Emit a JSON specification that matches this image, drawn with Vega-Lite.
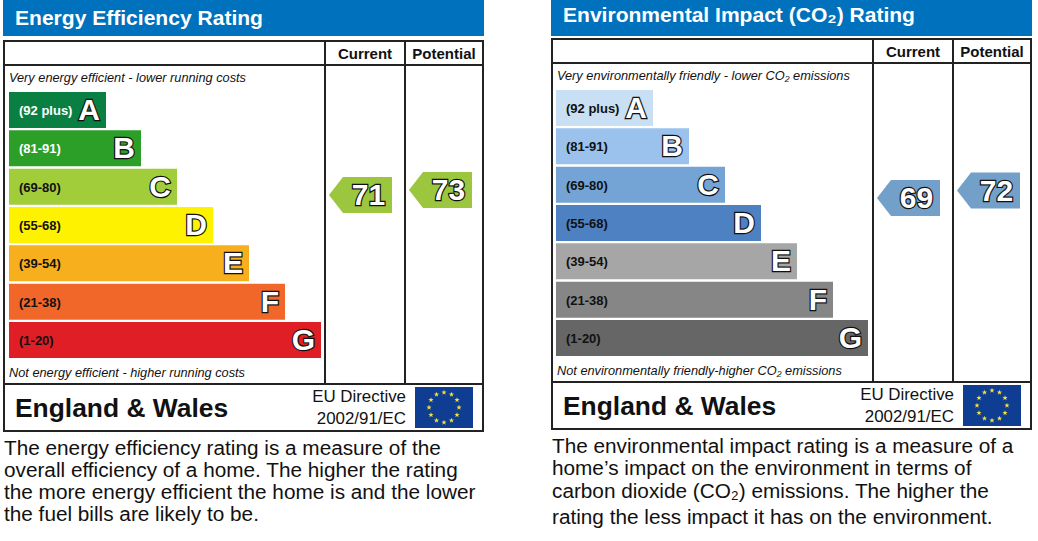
{
"$schema":"https://vega.github.io/schema/vega-lite/v6.json",
"padding":0,"spacing":0,"background":"#ffffff",
"config":{"font":"Liberation Sans","view":{"stroke":null},"axis":{"disable":true},"legend":{"disable":true},"text":{"baseline":"alphabetic","font":"Liberation Sans","fill":"#111111"},"rule":{"stroke":"#222222","strokeWidth":2}},
"datasets":{
"energyBands":[{"band":"A","range":"(92 plus)","length":97},{"band":"B","range":"(81-91)","length":132},{"band":"C","range":"(69-80)","length":168},{"band":"D","range":"(55-68)","length":204},{"band":"E","range":"(39-54)","length":240},{"band":"F","range":"(21-38)","length":276},{"band":"G","range":"(1-20)","length":312}],
"envBands":[{"band":"A","range":"(92 plus)","length":97},{"band":"B","range":"(81-91)","length":133},{"band":"C","range":"(69-80)","length":169},{"band":"D","range":"(55-68)","length":205},{"band":"E","range":"(39-54)","length":241},{"band":"F","range":"(21-38)","length":277},{"band":"G","range":"(1-20)","length":312}],
"energyRatings":[{"rating":"Current","score":71},{"rating":"Potential","score":73}],
"envRatings":[{"rating":"Current","score":69},{"rating":"Potential","score":72}]
},
"hconcat":[
{"width":548,"height":541,"resolve":{"scale":{"x":"independent","y":"independent","color":"independent"}},"layer":[
{"data":{"values":[{}]},"layer":[
{"mark":{"type":"rect","fill":"#0071bc"},"encoding":{"x":{"datum":3,"scale":{"domain":[0,548],"nice":false,"zero":false}},"x2":{"datum":484},"y":{"datum":0,"scale":{"domain":[541,0],"nice":false,"zero":false}},"y2":{"datum":36}}},
{"mark":{"type":"rect","fill":"#ffffff","stroke":"#222222","strokeWidth":2},"encoding":{"x":{"datum":4},"x2":{"datum":483},"y":{"datum":41},"y2":{"datum":431}}},
{"mark":{"type":"rule"},"encoding":{"x":{"datum":4},"x2":{"datum":483},"y":{"datum":65}}},
{"mark":{"type":"rule"},"encoding":{"x":{"datum":4},"x2":{"datum":483},"y":{"datum":384}}},
{"mark":{"type":"rule"},"encoding":{"x":{"datum":325},"y":{"datum":41},"y2":{"datum":384}}},
{"mark":{"type":"rule"},"encoding":{"x":{"datum":405},"y":{"datum":41},"y2":{"datum":384}}},
{"mark":{"type":"rect","fill":"#0f3d91"},"encoding":{"x":{"datum":415},"x2":{"datum":473},"y":{"datum":387},"y2":{"datum":428}}},
{"mark":{"type":"point","filled":true,"opacity":1,"size":10000,"fill":"#f2e23c","shape":"M0,-.356l.013,.038l.04,.001l-.032,.024l.012,.038l-.033,-.023l-.033,.023l.012,-.038l-.032,-.024l.04,-.001zM.15,-.316l.013,.038l.04,.001l-.032,.024l.012,.038l-.033,-.023l-.033,.023l.012,-.038l-.032,-.024l.04,-.001zM.26,-.206l.013,.038l.04,.001l-.032,.024l.012,.038l-.033,-.023l-.033,.023l.012,-.038l-.032,-.024l.04,-.001zM.3,-.056l.013,.038l.04,.001l-.032,.024l.012,.038l-.033,-.023l-.033,.023l.012,-.038l-.032,-.024l.04,-.001zM.26,.094l.013,.038l.04,.001l-.032,.024l.012,.038l-.033,-.023l-.033,.023l.012,-.038l-.032,-.024l.04,-.001zM.15,.204l.013,.038l.04,.001l-.032,.024l.012,.038l-.033,-.023l-.033,.023l.012,-.038l-.032,-.024l.04,-.001zM0,.244l.013,.038l.04,.001l-.032,.024l.012,.038l-.033,-.023l-.033,.023l.012,-.038l-.032,-.024l.04,-.001zM-.15,.204l.013,.038l.04,.001l-.032,.024l.012,.038l-.033,-.023l-.033,.023l.012,-.038l-.032,-.024l.04,-.001zM-.26,.094l.013,.038l.04,.001l-.032,.024l.012,.038l-.033,-.023l-.033,.023l.012,-.038l-.032,-.024l.04,-.001zM-.3,-.056l.013,.038l.04,.001l-.032,.024l.012,.038l-.033,-.023l-.033,.023l.012,-.038l-.032,-.024l.04,-.001zM-.26,-.206l.013,.038l.04,.001l-.032,.024l.012,.038l-.033,-.023l-.033,.023l.012,-.038l-.032,-.024l.04,-.001zM-.15,-.316l.013,.038l.04,.001l-.032,.024l.012,.038l-.033,-.023l-.033,.023l.012,-.038l-.032,-.024l.04,-.001z"},"encoding":{"x":{"datum":444},"y":{"datum":407.5}}},
{"mark":{"type":"text","text":"Energy Efficiency Rating","fontSize":21.05,"fontWeight":"bold","fill":"#ffffff","align":"left"},"encoding":{"x":{"datum":15},"y":{"datum":25}}},
{"mark":{"type":"text","text":"Current","fontSize":15,"fontWeight":"bold","align":"center"},"encoding":{"x":{"datum":365},"y":{"datum":59}}},
{"mark":{"type":"text","text":"Potential","fontSize":15,"fontWeight":"bold","align":"center"},"encoding":{"x":{"datum":444},"y":{"datum":59}}},
{"mark":{"type":"text","text":"Very energy efficient - lower running costs","fontSize":12.75,"fontStyle":"italic","align":"left"},"encoding":{"x":{"datum":9},"y":{"datum":82}}},
{"mark":{"type":"text","text":"Not energy efficient - higher running costs","fontSize":12.75,"fontStyle":"italic","align":"left"},"encoding":{"x":{"datum":9},"y":{"datum":377}}},
{"mark":{"type":"text","text":"England & Wales","fontSize":26.4,"fontWeight":"bold","align":"left"},"encoding":{"x":{"datum":15},"y":{"datum":417}}},
{"mark":{"type":"text","text":"EU Directive","fontSize":16.9,"align":"right"},"encoding":{"x":{"datum":406},"y":{"datum":402}}},
{"mark":{"type":"text","text":"2002/91/EC","fontSize":16.9,"align":"right"},"encoding":{"x":{"datum":406},"y":{"datum":424}}},
{"mark":{"type":"text","text":"The energy efficiency rating is a measure of the","fontSize":20.75,"align":"left"},"encoding":{"x":{"datum":4},"y":{"datum":455}}},
{"mark":{"type":"text","text":"overall efficiency of a home. The higher the rating","fontSize":20.75,"align":"left"},"encoding":{"x":{"datum":4},"y":{"datum":477}}},
{"mark":{"type":"text","text":"the more energy efficient the home is and the lower","fontSize":20.75,"align":"left"},"encoding":{"x":{"datum":4},"y":{"datum":499}}},
{"mark":{"type":"text","text":"the fuel bills are likely to be.","fontSize":20.75,"align":"left"},"encoding":{"x":{"datum":4},"y":{"datum":521}}}
]},
{"data":{"name":"energyBands"},"layer":[
{"mark":{"type":"bar","cornerRadius":0},"encoding":{"x":{"field":"length","type":"quantitative","scale":{"domain":[-9,539],"nice":false,"zero":false}},"x2":{"datum":0},"y":{"field":"band","type":"nominal","scale":{"domain":["A","B","C","D","E","F","G"],"range":[92,358],"paddingInner":0.06,"paddingOuter":0}},"color":{"field":"band","type":"nominal","scale":{"domain":["A","B","C","D","E","F","G"],"range":["#0a7f42","#2c9f29","#a2cd3a","#fff200","#f8af1e","#f1672a","#e01e26"]}}}},
{"mark":{"type":"text","fontSize":13,"fontWeight":"bold","align":"left","baseline":"middle","dy":1},"encoding":{"x":{"datum":10},"y":{"field":"band","type":"nominal"},"text":{"field":"range"},"fill":{"condition":{"test":"datum.band==='A'||datum.band==='B'","value":"#ffffff"},"value":"#111111"}}},
{"mark":{"type":"text","fontSize":30,"fontWeight":"bold","align":"right","baseline":"middle","dx":-6,"dy":1,"fill":"#111111","stroke":"#111111","strokeWidth":2.4},"encoding":{"x":{"field":"length","type":"quantitative"},"y":{"field":"band","type":"nominal"},"text":{"field":"band"}}},
{"mark":{"type":"text","fontSize":30,"fontWeight":"bold","align":"right","baseline":"middle","dx":-6,"dy":1,"fill":"#ffffff"},"encoding":{"x":{"field":"length","type":"quantitative"},"y":{"field":"band","type":"nominal"},"text":{"field":"band"}}}
]},
{"data":{"name":"energyRatings"},"layer":[
{"mark":{"type":"point","filled":true,"opacity":1,"size":10000,"fill":"#9bc63d","shape":"M-.63,0L-.35,-.36L.63,-.36L.63,.36L-.35,.36Z"},"encoding":{"x":{"field":"rating","type":"nominal","scale":{"type":"point","domain":["Current","Potential"],"range":[360.5,440.5],"padding":0}},"y":{"field":"score","type":"quantitative","scale":{"domain":[0,100],"range":[372.5,122.5],"nice":false,"zero":false}}}},
{"mark":{"type":"text","fontSize":30,"fontWeight":"bold","align":"center","baseline":"middle","dx":8,"dy":1,"fill":"#111111","stroke":"#111111","strokeWidth":2.4},"encoding":{"x":{"field":"rating","type":"nominal"},"y":{"field":"score","type":"quantitative"},"text":{"field":"score","type":"quantitative"}}},
{"mark":{"type":"text","fontSize":30,"fontWeight":"bold","align":"center","baseline":"middle","dx":8,"dy":1,"fill":"#ffffff"},"encoding":{"x":{"field":"rating","type":"nominal"},"y":{"field":"score","type":"quantitative"},"text":{"field":"score","type":"quantitative"}}}
]}
]},
{"width":490,"height":541,"resolve":{"scale":{"x":"independent","y":"independent","color":"independent"}},"layer":[
{"data":{"values":[{}]},"layer":[
{"mark":{"type":"rect","fill":"#0071bc"},"encoding":{"x":{"datum":3,"scale":{"domain":[0,490],"nice":false,"zero":false}},"x2":{"datum":484},"y":{"datum":2,"scale":{"domain":[543,2],"nice":false,"zero":false}},"y2":{"datum":38}}},
{"mark":{"type":"rect","fill":"#ffffff","stroke":"#222222","strokeWidth":2},"encoding":{"x":{"datum":4},"x2":{"datum":483},"y":{"datum":41},"y2":{"datum":431}}},
{"mark":{"type":"rule"},"encoding":{"x":{"datum":4},"x2":{"datum":483},"y":{"datum":65}}},
{"mark":{"type":"rule"},"encoding":{"x":{"datum":4},"x2":{"datum":483},"y":{"datum":384}}},
{"mark":{"type":"rule"},"encoding":{"x":{"datum":325},"y":{"datum":41},"y2":{"datum":384}}},
{"mark":{"type":"rule"},"encoding":{"x":{"datum":405},"y":{"datum":41},"y2":{"datum":384}}},
{"mark":{"type":"rect","fill":"#0f3d91"},"encoding":{"x":{"datum":415},"x2":{"datum":473},"y":{"datum":387},"y2":{"datum":428}}},
{"mark":{"type":"point","filled":true,"opacity":1,"size":10000,"fill":"#f2e23c","shape":"M0,-.356l.013,.038l.04,.001l-.032,.024l.012,.038l-.033,-.023l-.033,.023l.012,-.038l-.032,-.024l.04,-.001zM.15,-.316l.013,.038l.04,.001l-.032,.024l.012,.038l-.033,-.023l-.033,.023l.012,-.038l-.032,-.024l.04,-.001zM.26,-.206l.013,.038l.04,.001l-.032,.024l.012,.038l-.033,-.023l-.033,.023l.012,-.038l-.032,-.024l.04,-.001zM.3,-.056l.013,.038l.04,.001l-.032,.024l.012,.038l-.033,-.023l-.033,.023l.012,-.038l-.032,-.024l.04,-.001zM.26,.094l.013,.038l.04,.001l-.032,.024l.012,.038l-.033,-.023l-.033,.023l.012,-.038l-.032,-.024l.04,-.001zM.15,.204l.013,.038l.04,.001l-.032,.024l.012,.038l-.033,-.023l-.033,.023l.012,-.038l-.032,-.024l.04,-.001zM0,.244l.013,.038l.04,.001l-.032,.024l.012,.038l-.033,-.023l-.033,.023l.012,-.038l-.032,-.024l.04,-.001zM-.15,.204l.013,.038l.04,.001l-.032,.024l.012,.038l-.033,-.023l-.033,.023l.012,-.038l-.032,-.024l.04,-.001zM-.26,.094l.013,.038l.04,.001l-.032,.024l.012,.038l-.033,-.023l-.033,.023l.012,-.038l-.032,-.024l.04,-.001zM-.3,-.056l.013,.038l.04,.001l-.032,.024l.012,.038l-.033,-.023l-.033,.023l.012,-.038l-.032,-.024l.04,-.001zM-.26,-.206l.013,.038l.04,.001l-.032,.024l.012,.038l-.033,-.023l-.033,.023l.012,-.038l-.032,-.024l.04,-.001zM-.15,-.316l.013,.038l.04,.001l-.032,.024l.012,.038l-.033,-.023l-.033,.023l.012,-.038l-.032,-.024l.04,-.001z"},"encoding":{"x":{"datum":444},"y":{"datum":407.5}}},
{"mark":{"type":"text","text":"Environmental Impact (CO₂) Rating","fontSize":21.05,"fontWeight":"bold","fill":"#ffffff","align":"left"},"encoding":{"x":{"datum":15},"y":{"datum":24}}},
{"mark":{"type":"text","text":"Current","fontSize":15,"fontWeight":"bold","align":"center"},"encoding":{"x":{"datum":365},"y":{"datum":59}}},
{"mark":{"type":"text","text":"Potential","fontSize":15,"fontWeight":"bold","align":"center"},"encoding":{"x":{"datum":444},"y":{"datum":59}}},
{"mark":{"type":"text","text":"Very environmentally friendly - lower CO₂ emissions","fontSize":12.75,"fontStyle":"italic","align":"left"},"encoding":{"x":{"datum":9},"y":{"datum":82}}},
{"mark":{"type":"text","text":"Not environmentally friendly-higher CO₂ emissions","fontSize":12.75,"fontStyle":"italic","align":"left"},"encoding":{"x":{"datum":9},"y":{"datum":377}}},
{"mark":{"type":"text","text":"England & Wales","fontSize":26.4,"fontWeight":"bold","align":"left"},"encoding":{"x":{"datum":15},"y":{"datum":417}}},
{"mark":{"type":"text","text":"EU Directive","fontSize":16.9,"align":"right"},"encoding":{"x":{"datum":406},"y":{"datum":402}}},
{"mark":{"type":"text","text":"2002/91/EC","fontSize":16.9,"align":"right"},"encoding":{"x":{"datum":406},"y":{"datum":424}}},
{"mark":{"type":"text","text":"The environmental impact rating is a measure of a","fontSize":20.75,"align":"left"},"encoding":{"x":{"datum":4},"y":{"datum":455}}},
{"mark":{"type":"text","text":"home’s impact on the environment in terms of","fontSize":20.75,"align":"left"},"encoding":{"x":{"datum":4},"y":{"datum":477}}},
{"mark":{"type":"text","text":"carbon dioxide (CO₂) emissions. The higher the","fontSize":20.75,"align":"left"},"encoding":{"x":{"datum":4},"y":{"datum":500}}},
{"mark":{"type":"text","text":"rating the less impact it has on the environment.","fontSize":20.75,"align":"left"},"encoding":{"x":{"datum":4},"y":{"datum":526}}}
]},
{"data":{"name":"envBands"},"layer":[
{"mark":{"type":"bar","cornerRadius":0},"encoding":{"x":{"field":"length","type":"quantitative","scale":{"domain":[-8,482],"nice":false,"zero":false}},"x2":{"datum":0},"y":{"field":"band","type":"nominal","scale":{"domain":["A","B","C","D","E","F","G"],"range":[90,356],"paddingInner":0.06,"paddingOuter":0}},"color":{"field":"band","type":"nominal","scale":{"domain":["A","B","C","D","E","F","G"],"range":["#c9dff3","#9ac2ec","#74a3d6","#4d81c2","#a6a6a6","#868686","#666666"]}}}},
{"mark":{"type":"text","fontSize":13,"fontWeight":"bold","align":"left","baseline":"middle","dy":1,"fill":"#111111"},"encoding":{"x":{"datum":10},"y":{"field":"band","type":"nominal"},"text":{"field":"range"}}},
{"mark":{"type":"text","fontSize":30,"fontWeight":"bold","align":"right","baseline":"middle","dx":-6,"dy":1,"fill":"#111111","stroke":"#111111","strokeWidth":2.4},"encoding":{"x":{"field":"length","type":"quantitative"},"y":{"field":"band","type":"nominal"},"text":{"field":"band"}}},
{"mark":{"type":"text","fontSize":30,"fontWeight":"bold","align":"right","baseline":"middle","dx":-6,"dy":1,"fill":"#ffffff"},"encoding":{"x":{"field":"length","type":"quantitative"},"y":{"field":"band","type":"nominal"},"text":{"field":"band"}}}
]},
{"data":{"name":"envRatings"},"layer":[
{"mark":{"type":"point","filled":true,"opacity":1,"size":10000,"fill":"#72a0c8","shape":"M-.63,0L-.35,-.36L.63,-.36L.63,.36L-.35,.36Z"},"encoding":{"x":{"field":"rating","type":"nominal","scale":{"type":"point","domain":["Current","Potential"],"range":[360.5,440.5],"padding":0}},"y":{"field":"score","type":"quantitative","scale":{"domain":[0,100],"range":[370.5,120.5],"nice":false,"zero":false}}}},
{"mark":{"type":"text","fontSize":30,"fontWeight":"bold","align":"center","baseline":"middle","dx":8,"dy":1,"fill":"#111111","stroke":"#111111","strokeWidth":2.4},"encoding":{"x":{"field":"rating","type":"nominal"},"y":{"field":"score","type":"quantitative"},"text":{"field":"score","type":"quantitative"}}},
{"mark":{"type":"text","fontSize":30,"fontWeight":"bold","align":"center","baseline":"middle","dx":8,"dy":1,"fill":"#ffffff"},"encoding":{"x":{"field":"rating","type":"nominal"},"y":{"field":"score","type":"quantitative"},"text":{"field":"score","type":"quantitative"}}}
]}
]}
]
}
